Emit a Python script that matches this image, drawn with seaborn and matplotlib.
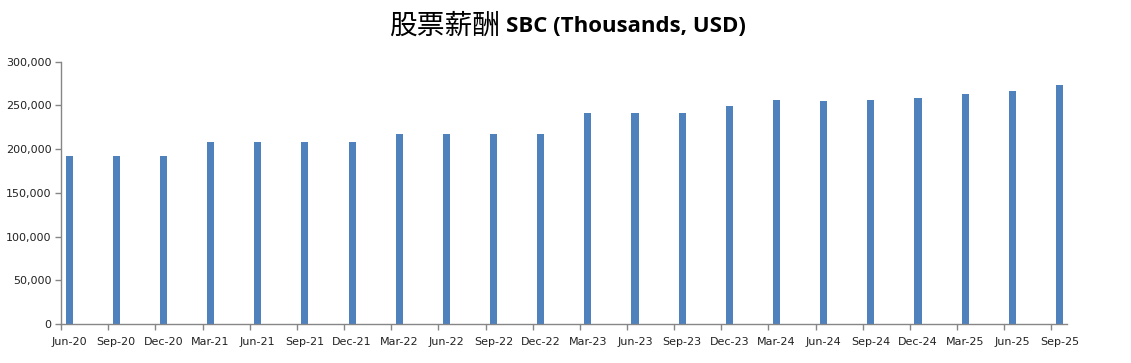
import matplotlib
matplotlib.use("Agg")
import matplotlib.pyplot as plt
import seaborn as sns
import pandas as pd
import numpy as np
from matplotlib.ticker import FuncFormatter, FixedLocator

quarters = ["Jun-20", "Sep-20", "Dec-20", "Mar-21", "Jun-21", "Sep-21", "Dec-21",
            "Mar-22", "Jun-22", "Sep-22", "Dec-22", "Mar-23", "Jun-23", "Sep-23",
            "Dec-23", "Mar-24", "Jun-24", "Sep-24", "Dec-24", "Mar-25", "Jun-25", "Sep-25"]
sbc = [192, 192, 192, 208, 208, 208, 208, 217, 217, 217, 217, 241, 241, 241,
       249, 256, 255, 256, 258, 263, 267, 273]
sbc_usd_k = [v * 1000 for v in sbc]
yticks = [0, 50000, 100000, 150000, 200000, 250000, 300000]

df = pd.DataFrame({"quarter": quarters, "sbc": sbc_usd_k})

sns.set_style("white")
plt.rcParams['font.family'] = ['DejaVu Sans']

fig = plt.figure(figsize=(11.31, 3.63), dpi=100)
ax = fig.add_axes([0.054, 0.107, 0.889, 0.723])

sns.barplot(data=df, x="quarter", y="sbc", color="#4F81BD", saturation=1,
            width=0.15, ax=ax, edgecolor="none")

n = len(quarters)
ax.set_xlim(-0.17, n - 1 + 0.15)
ax.set_ylim(0, 300000)
ax.set_yticks(yticks)
ax.yaxis.set_major_formatter(FuncFormatter(lambda v, p: f"{int(v):,}"))

pos = np.arange(n)
ax.xaxis.set_major_locator(FixedLocator(list(pos - 0.17)))
ax.xaxis.set_minor_locator(FixedLocator(list(pos)))
ax.set_xticklabels([""] * n)
ax.set_xticks(pos, quarters, minor=True)
ax.tick_params(axis="x", which="major", length=4, width=1, color="#868686", direction="out", bottom=True)
ax.tick_params(axis="x", which="minor", length=0, labelsize=8, pad=9, labelcolor="#222222")
ax.tick_params(axis="y", length=4, width=1, color="#868686", direction="out", left=True,
               labelsize=8, labelcolor="#222222", pad=3)

for s in ["top", "right"]:
    ax.spines[s].set_visible(False)
for s in ["left", "bottom"]:
    ax.spines[s].set_color("#868686")
    ax.spines[s].set_linewidth(1)
ax.set_xlabel("")
ax.set_ylabel("")
ax.grid(False)

fig.text(0.442, 0.928, "股票薪酬", ha="right", va="center", fontsize=20,
         family=["Noto Sans CJK SC", "DejaVu Sans"], color="black")
fig.text(0.447, 0.928, "SBC (Thousands, USD)", ha="left", va="center", fontsize=16,
         family=["Open Sans", "DejaVu Sans"], fontweight="bold", color="black")

fig.savefig("out.png", dpi=100)
